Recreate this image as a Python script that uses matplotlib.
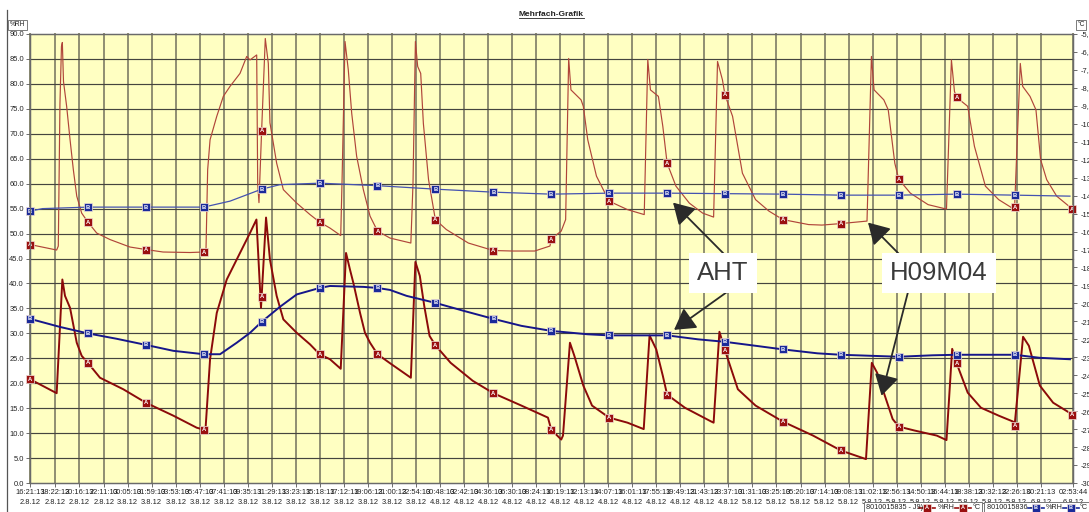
import matplotlib
matplotlib.use("Agg")
import matplotlib.pyplot as plt
from matplotlib.lines import Line2D
from matplotlib.patches import Rectangle
from datetime import datetime

plt.rcParams["font.family"] = ["Liberation Sans", "DejaVu Sans"]

# ---------------- data ----------------
tick_times = ["16:21:13", "18:22:13", "20:16:13", "22:11:13", "00:05:13", "01:59:13", "03:53:13",
              "05:47:13", "07:41:13", "09:35:13", "11:29:13", "13:23:13", "15:18:13", "17:12:13",
              "19:06:13", "21:00:13", "22:54:13", "00:48:13", "02:42:13", "04:36:13", "06:30:13",
              "08:24:13", "10:19:13", "12:13:13", "14:07:13", "16:01:13", "17:55:13", "19:49:13",
              "21:43:13", "23:37:13", "01:31:13", "03:25:13", "05:20:13", "07:14:13", "09:08:13",
              "11:02:13", "12:56:13", "14:50:13", "16:44:13", "18:38:13", "20:32:13", "22:26:13",
              "00:21:13", "02:53:44"]
tick_dates = ["2.8.12"] * 4 + ["3.8.12"] * 13 + ["4.8.12"] * 13 + ["5.8.12"] * 12 + ["6.8.12"] * 2

# hours since start
a_rh_h = [0.00, 2.11, 2.24, 2.37, 2.49, 2.56, 2.65, 2.90, 3.17, 3.43, 3.70, 4.09, 4.58, 5.28, 6.33, 7.91,
          9.17, 10.53, 12.66, 13.75, 13.93, 14.06, 14.25, 14.78, 15.30, 15.83, 16.62, 17.15, 17.41, 17.94,
          18.02, 18.12, 18.33, 18.62, 18.86, 18.99, 19.52, 20.05, 21.11, 22.16, 22.92, 23.74, 24.59, 24.69,
          24.93, 25.19, 25.46, 25.85, 26.38, 26.91, 27.50, 28.49, 30.14, 30.31, 30.50, 30.68, 30.92, 31.13,
          31.54, 32.08, 32.95, 34.69, 36.67, 38.19, 39.94, 41.15, 41.25, 42.04, 42.39, 42.63, 42.81, 43.61,
          43.79, 44.14, 44.83, 45.83, 47.28, 48.61, 48.89, 49.10, 49.73, 50.08, 50.42, 51.12, 52.18, 53.23,
          54.10, 54.41, 54.80, 55.00, 55.60, 56.38, 57.42, 58.48, 59.58, 61.62, 62.67, 64.17, 65.82, 66.24,
          66.59, 66.80, 67.57, 67.92, 68.44, 68.75, 69.67, 71.07, 72.53, 72.92, 73.16, 73.33, 74.21, 74.74,
          75.61, 76.66, 77.80, 77.92, 78.37, 78.56, 79.14, 79.61, 79.98, 80.46, 81.25, 82.50]
a_rh = [47.8, 46.7, 47.5, 76.0, 87.5, 88.3, 80.5, 75.5, 68.8, 62.8, 57.5, 54.1, 52.3, 50.1, 48.8, 47.3,
        46.8, 46.3, 46.2, 46.3, 47.0, 62.8, 68.8, 73.5, 77.5, 79.5, 82.1, 85.5, 84.8, 85.8,
        60.0, 56.2, 70.6, 89.1, 84.1, 72.2, 64.1, 58.8, 56.1, 53.8, 52.3, 51.1, 49.6, 60.0,
        88.5, 82.8, 74.1, 65.5, 58.8, 53.5, 50.5, 49.1, 48.1, 60.0, 88.5, 83.5, 82.1, 72.1,
        60.8, 52.8, 50.8, 48.1, 46.6, 46.5, 46.5, 47.5, 48.9, 50.5, 52.8, 85.1, 78.8, 76.8,
        75.5, 68.8, 61.5, 56.5, 54.8, 53.8, 84.9, 78.8, 77.5, 71.5, 64.1, 59.5, 56.1, 54.1,
        53.3, 84.5, 80.8, 77.8, 73.5, 62.1, 56.8, 54.5, 52.8, 51.8, 51.7, 52.0, 52.4, 52.5,
        85.5, 78.8, 76.8, 74.8, 64.1, 60.9, 58.1, 55.8, 54.9, 84.8, 78.5, 77.3, 75.5, 67.5,
        59.5, 56.8, 55.0, 55.3, 84.1, 79.5, 77.5, 74.8, 64.8, 60.8, 57.5, 54.9]

a_c_h = [0.00, 2.11, 2.56, 2.77, 3.17, 3.70, 4.09, 4.58, 5.54, 7.38, 9.17, 11.34, 13.19, 13.75, 13.89,
         14.25, 14.78, 15.57, 16.62, 17.41, 17.92, 18.28, 18.33, 18.68, 18.99, 19.52, 20.05, 21.11, 22.16,
         22.92, 23.74, 24.59, 25.01, 25.32, 25.59, 26.12, 26.51, 26.91, 27.50, 28.49, 30.14, 30.50, 30.85,
         31.20, 31.62, 32.08, 33.29, 35.04, 36.67, 38.89, 40.99, 41.25, 42.04, 42.18, 42.73, 43.08, 43.79,
         44.48, 45.83, 47.28, 48.57, 49.03, 49.56, 50.08, 50.42, 51.83, 53.92, 54.10, 54.56, 55.00, 56.02,
         57.42, 59.58, 61.97, 64.17, 66.16, 66.62, 67.04, 67.57, 68.27, 68.75, 70.01, 71.76, 72.53, 72.98,
         73.33, 74.21, 75.26, 76.66, 77.80, 77.92, 78.59, 79.05, 79.92, 80.97, 82.50]
a_c = [-24.22, -25.0, -18.67, -19.58, -20.25, -22.19, -22.92, -23.31, -24.14, -24.78, -25.53, -26.25, -26.92,
       -27.03, -27.0, -23.11, -20.53, -18.67, -17.19, -16.08, -15.33, -20.25, -19.64, -15.22, -17.56, -19.58,
       -20.89, -21.64, -22.28, -22.83, -23.11, -23.64, -17.19, -18.11, -18.86, -20.53, -21.64, -22.19, -22.83,
       -23.33, -24.14, -17.69, -18.47, -20.14, -21.81, -22.33, -23.31, -24.31, -25.0, -25.69, -26.36, -27.03,
       -27.58, -27.36, -22.19, -22.92, -24.58, -25.69, -26.36, -26.64, -27.0, -21.78, -22.56, -24.03, -25.08,
       -25.81, -26.58, -26.64, -21.58, -22.61, -24.78, -25.69, -26.58, -27.36, -28.19, -28.67, -23.31, -23.86,
       -24.97, -26.44, -26.86, -27.08, -27.36, -27.61, -22.53, -23.33, -24.97, -25.81, -26.25, -26.58, -26.8,
       -21.86, -22.36, -24.58, -25.53, -26.19]

b_rh_h = [0.0, 1.0, 4.58, 9.17, 13.75, 15.83, 18.33, 19.78, 22.92, 27.5, 32.08, 36.67, 41.25, 45.83, 50.42,
          55.0, 59.58, 64.17, 68.75, 73.33, 77.92, 82.3]
b_rh = [54.5, 55.0, 55.3, 55.3, 55.3, 56.5, 58.9, 59.8, 60.1, 59.6, 58.9, 58.3, 57.9, 58.1, 58.1,
        58.0, 57.9, 57.7, 57.7, 57.9, 57.7, 57.5]

b_c_h = [0.0, 2.37, 4.58, 6.86, 9.17, 11.34, 13.75, 15.04, 16.36, 17.41, 18.33, 19.78, 21.11, 22.92, 23.74,
         26.38, 27.5, 28.49, 29.80, 32.08, 34.35, 36.67, 38.89, 41.25, 44.14, 45.83, 50.42, 52.86, 55.0,
         57.42, 59.58, 62.32, 64.17, 68.75, 71.41, 73.33, 77.92, 79.92, 82.3]
b_c = [-20.86, -21.31, -21.67, -21.97, -22.31, -22.64, -22.83, -22.83, -22.19, -21.64, -21.03, -20.19, -19.5,
       -19.14, -19.03, -19.08, -19.14, -19.25, -19.58, -19.97, -20.42, -20.86, -21.25, -21.53, -21.72, -21.78,
       -21.78, -22.0, -22.14, -22.36, -22.56, -22.78, -22.86, -22.97, -22.89, -22.86, -22.86, -23.03, -23.11]

marker_h = [0.0, 4.58, 9.17, 13.75, 18.33, 22.92, 27.5, 32.08, 36.67, 41.25, 45.83, 50.42, 55.0, 59.58,
            64.17, 68.75, 73.33, 77.92, 82.5]
a_rh_mk = [47.8, 52.3, 46.8, 46.3, 70.6, 52.3, 50.5, 52.8, 46.6, 48.9, 56.5, 64.1, 77.8, 52.8, 52.0,
           60.9, 77.3, 55.3, 54.9]
a_c_mk = [-24.22, -23.31, -25.53, -27.03, -19.64, -22.83, -22.83, -22.33, -25.0, -27.03, -26.36, -25.08,
          -22.61, -26.58, -28.19, -26.86, -23.33, -26.8, -26.19]
b_rh_mk = [54.5, 55.3, 55.3, 55.3, 58.9, 60.1, 59.6, 58.9, 58.3, 57.9, 58.1, 58.1, 58.0, 57.9, 57.7,
           57.7, 57.9, 57.7]
b_c_mk = [-20.86, -21.67, -22.31, -22.83, -21.03, -19.14, -19.14, -19.97, -20.86, -21.53, -21.78, -21.78,
          -22.14, -22.56, -22.86, -22.97, -22.86, -22.86]

# annotations: label, box centre (px), [(start px, tip in data (h, %RH))]
annotations = [
    ("AHT", (723, 273), [((725, 255), (50.89, 56.2)), ((727, 292), (50.97, 30.7))]),
    ("H09M04", (939, 273), [((900, 255), (66.32, 52.2)), ((908, 292), (67.39, 17.5))]),
]

# ---------------- figure ----------------
W, H = 1089, 512
fig = plt.figure(figsize=(W / 100, H / 100), dpi=100)
fig.patch.set_facecolor("white")


def fx(x):
    return x / W


def fy(y):
    return 1 - y / H


L, R, T, B = 30, 1073, 34, 483
ax = fig.add_axes([fx(L), fy(B), fx(R) - fx(L), fy(T) - fy(B)])
ax.set_facecolor("#FFFFC2")
ax2 = ax.twinx()

start = datetime.strptime(tick_dates[0] + " " + tick_times[0], "%d.%m.%y %H:%M:%S")
tick_h = [(datetime.strptime(d + " " + t, "%d.%m.%y %H:%M:%S") - start).total_seconds() / 3600
          for t, d in zip(tick_times, tick_dates)]

ax.set_xlim(0, tick_h[-1])
ax.set_ylim(0, 90)
ax2.set_ylim(-30, -5)

# grid
for h in tick_h:
    ax.axvline(h, color="#8f8e72", lw=1.4, zorder=0.5)
for v in range(5, 90, 5):
    ax.axhline(v, color="#45453f", lw=0.85, zorder=0.6)

tick_font = dict(fontsize=5.4, color="#222222")
ax.set_xticks(tick_h)
ax.set_xticklabels([f"{t}\n{d}" for t, d in zip(tick_times, tick_dates)], linespacing=1.5, **tick_font)
ax.set_yticks(range(0, 91, 5))
ax.set_yticklabels([f"{v:.1f}" for v in range(0, 91, 5)], **tick_font)
ax2.set_yticks(range(-30, -4))
ax2.set_yticklabels([f"{v},0" for v in range(-30, -4)], **tick_font)
ax.tick_params(axis="x", length=3, pad=1.5, width=0.6, color="#555555")
ax.tick_params(axis="y", length=3, pad=1.5, width=0.6, color="#555555")
ax2.tick_params(axis="y", length=3, pad=2.5, width=0.6, color="#555555")
for a in (ax, ax2):
    for s in a.spines.values():
        s.set_color("#6a6a6a")
        s.set_linewidth(0.9)

# series
c_arh, c_ac, c_brh, c_bc = "#b0453a", "#8b0a0a", "#4452b0", "#16168a"
ax.plot(a_rh_h, a_rh, color=c_arh, lw=0.85, zorder=3)
ax.plot(b_rh_h, b_rh, color=c_brh, lw=0.9, zorder=3)
ax2.plot(a_c_h, a_c, color=c_ac, lw=1.4, zorder=3)
ax2.plot(b_c_h, b_c, color=c_bc, lw=1.4, zorder=3)


def draw_markers(a, xs, ys, fc, letter):
    a.plot(xs, ys, ls="none", marker="s", ms=5.6, mfc=fc, mec="#f0e0d8", mew=0.5, zorder=5)
    for x, y in zip(xs, ys):
        a.text(x, y, letter, ha="center", va="center", fontsize=4.2, color="white",
               fontweight="bold", zorder=6)


draw_markers(ax, marker_h[:len(a_rh_mk)], a_rh_mk, "#9a1010", "A")
draw_markers(ax, marker_h[:len(b_rh_mk)], b_rh_mk, "#1a2a9a", "B")
draw_markers(ax2, marker_h[:len(a_c_mk)], a_c_mk, "#9a1010", "A")
draw_markers(ax2, marker_h[:len(b_c_mk)], b_c_mk, "#1a2a9a", "B")

for a in (ax, ax2):
    for m in a.lines + a.texts:
        m.set_clip_on(False)

# annotations
for label, (cx, cy), arrows in annotations:
    for (sx, sy), tip in arrows:
        ax2.annotate("", xy=tip, xycoords=ax.transData, xytext=(sx, H - sy),
                     textcoords="figure pixels",
                     arrowprops=dict(arrowstyle="-|>,head_length=0.85,head_width=0.5",
                                     mutation_scale=15, color="#2a2a2a", lw=1.3,
                                     shrinkA=0, shrinkB=0), zorder=8)
    fig.text(fx(cx), fy(cy), label, ha="center", va="center", fontsize=18.5,
             color="#3a3a3a", zorder=10,
             bbox=dict(boxstyle="square,pad=0.32", fc="white", ec="none"))

# title
title = fig.text(fx(551), fy(14.5), "Mehrfach-Grafik", ha="center", va="center", fontsize=6,
                 fontweight="bold", color="#222222")
fig.canvas.draw()
bb = title.get_window_extent()
fig.add_artist(Line2D([bb.x0 / W, bb.x1 / W], [(bb.y0 + 0.3) / H] * 2, color="#222222", lw=0.6))

# axis unit boxes
fig.text(fx(17.5), fy(25), "%RH", ha="center", va="center", fontsize=4.8, color="#222222",
         bbox=dict(boxstyle="square,pad=0.25", fc="white", ec="#666666", lw=0.6))
fig.text(fx(1081), fy(25), "°C", ha="center", va="center", fontsize=4.8, color="#222222",
         bbox=dict(boxstyle="square,pad=0.25", fc="white", ec="#666666", lw=0.6))

# left frame line
fig.add_artist(Line2D([fx(7.3), fx(7.3)], [fy(10), fy(512)], color="#555555", lw=0.9))

# legend boxes
for x0, x1 in [(864, 982), (984, 1089)]:
    fig.add_artist(Rectangle((fx(x0), fy(512)), fx(x1) - fx(x0), fy(502) - fy(512),
                             transform=fig.transFigure, fc="white", ec="#777777", lw=0.7))
leg_items = [
    (866, "8010015835 - J9)", None, None),
    (919, None, "#9a1010", "A"), (938, "%RH", None, None),
    (955, None, "#9a1010", "A"), (973, "°C", None, None),
    (987, "8010015836 -", None, None),
    (1028, None, "#1a2a9a", "B"), (1046, "%RH", None, None),
    (1063, None, "#1a2a9a", "B"), (1080, "°C", None, None),
]
ly = fy(507.5)
for x, txt, col, letter in leg_items:
    if txt is not None:
        fig.text(fx(x), ly, txt, ha="left", va="center", fontsize=5.2, color="#222222")
    else:
        fig.add_artist(Line2D([fx(x), fx(x + 16)], [ly, ly], color=col, lw=1.2))
        fig.add_artist(Line2D([fx(x + 8)], [ly], ls="none", marker="s", ms=5.4, mfc=col,
                              mec="#f0e0d8", mew=0.5))
        fig.text(fx(x + 8), ly, letter, ha="center", va="center", fontsize=4.0,
                 color="white", fontweight="bold")

fig.savefig("out.png", dpi=100)
